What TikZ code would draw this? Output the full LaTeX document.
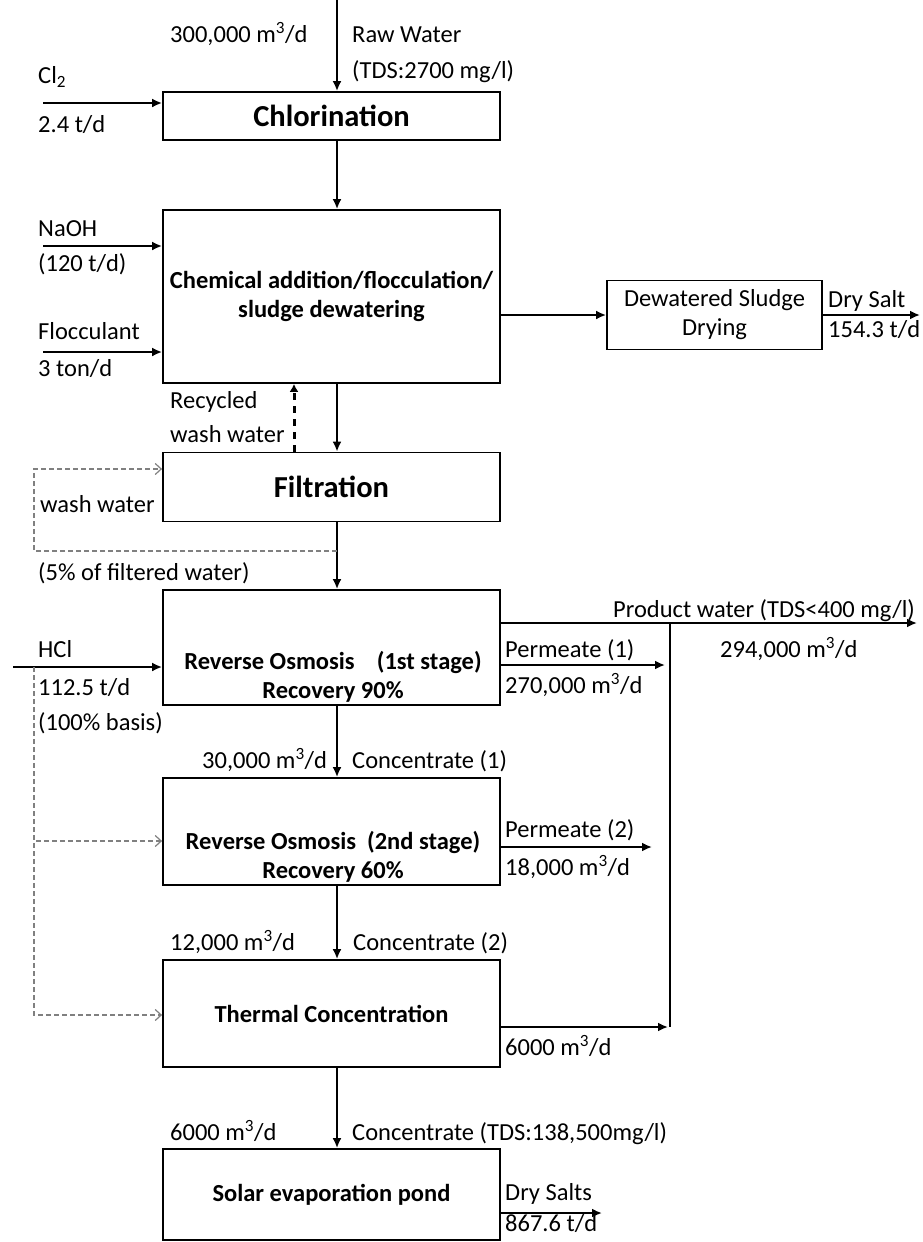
\documentclass[tikz,border=0pt]{standalone}
\usepackage{fontspec}
\setmainfont{Carlito}
\usetikzlibrary{arrows.meta}
\def\lbl{\fontsize{24.5}{29}\selectfont}
\def\bigt{\fontsize{30.5}{36}\selectfont}
\def\mcd{m\textsuperscript{3}/d}
\def\flow{\draw[flow]}

\begin{document}
\begin{tikzpicture}[x=1pt,y=-1pt,
    unit/.style={draw,line width=1.8pt,inner sep=0pt,align=center,font=\lbl\bfseries},
    txt/.style={anchor=west,inner sep=0pt,text height=16pt,text depth=5pt,font=\lbl},
    flow/.style={line width=2.2pt,-{Latex[length=10pt,width=9pt]}},
    wash/.style={gray,line width=1.2pt,dash pattern=on 5pt off 3pt,-{Straight Barb[length=6pt,width=11pt]}},
    recyc/.style={line width=3pt,dash pattern=on 7pt off 6pt,-{Latex[length=8pt,width=9pt]}}]
\useasboundingbox (0,0) rectangle (923,1242);
% process units
\node[unit,minimum width=337pt,minimum height=48pt]  (chlor)  at (331.5,116)   {\bigt Chlorination};
\node[unit,minimum width=337pt,minimum height=173pt] (chem)   at (331.5,296.5) {Chemical addition/flocculation/\\sludge dewatering};
\node[unit,minimum width=215pt,minimum height=69pt,font=\lbl] (sludge) at (714.5,315) {Dewatered Sludge\\Drying};
\node[unit,minimum width=337pt,minimum height=69pt]  (filt)   at (331.5,487)   {\bigt Filtration};
\node[unit,minimum width=337pt,minimum height=115pt] (ro1)    at (331.5,647.5) {};
\node[font=\lbl\bfseries,align=center,inner sep=0pt] (ro1t) at (333,677) {Reverse Osmosis~~~~(1st stage)\\Recovery 90\%};
\node[unit,minimum width=337pt,minimum height=107pt] (ro2)    at (331.5,831.5) {};
\node[font=\lbl\bfseries,align=center,inner sep=0pt] (ro2t) at (333,857) {Reverse Osmosis~~(2nd stage)\\Recovery 60\%};
\node[unit,minimum width=337pt,minimum height=107pt] (therm)  at (331.5,1013.5) {Thermal Concentration};
\node[unit,minimum width=337pt,minimum height=91pt]  (solar)  at (331.5,1194.5) {Solar evaporation pond};

% free ends
\coordinate (spine) at (337,0);
\coordinate (clin)  at (43,103);
\coordinate (naoh)  at (43,246);
\coordinate (floc)  at (43,352);
\coordinate (dry)   at (920,315);
\coordinate (rw)    at (294,0);
\coordinate (wsplit) at (337,551);
\coordinate (wl)    at (34,469);
\coordinate (hclin) at (13,667);
\coordinate (hcltap) at (34,667);
\coordinate (b2)    at (34,841);
\coordinate (b3)    at (34,1015);
\coordinate (prod)  at (917,623);
\coordinate (junc)  at (670,623);
\coordinate (p1)    at (665,665);
\coordinate (p2)    at (652,847);
\coordinate (tout)  at (668,1027);
\coordinate (ds)    at (602,1213);

% main line
\flow (spine) -- (chlor.north -| spine);
\foreach \a/\b in {chlor/chem,chem/filt,filt/ro1,ro1/ro2,ro2/therm,therm/solar}
    \flow (\a.south -| spine) -- (\b.north -| spine);
% chemicals in
\flow (clin) -- (clin -| chlor.west);
\flow (naoh) -- (naoh -| chem.west);
\flow (floc) -- (floc -| chem.west);
\flow (hclin) -- (hclin -| ro1.west);
% sludge
\flow (chem.east |- sludge.west) -- (sludge.west);
\flow (sludge.east |- dry) -- (dry);
% wash water
\draw[recyc] (filt.north -| rw) -- (chem.south -| rw);
\draw[wash] (wsplit) -| (wl) -- (wl -| filt.west);
\draw[wash] (hcltap) |- (b2 -| ro2.west);
\draw[wash] (hcltap) |- (b3 -| therm.west);
% product water
\flow (ro1.east |- prod) -- (prod);
\draw[line width=2.2pt] (junc) -- (junc |- tout);
\flow (ro1.east |- p1) -- (p1);
\flow (ro2.east |- p2) -- (p2);
\flow (therm.east |- tout) -- (tout);
\flow (solar.east |- ds) -- (ds);

% labels
\node[txt] (l1)  at (170,37)  {300,000 \mcd};
\node[txt] (l2)  at (352,37)  {Raw Water};
\node[txt] (l3)  at (352,73)  {(TDS:2700 mg/l)};
\node[txt] (l4)  at (38,78)   {Cl\textsubscript{2}};
\node[txt] (l5)  at (38,127)  {2.4 t/d};
\node[txt] (l6)  at (38,231)  {NaOH};
\node[txt] (l7)  at (38,266)  {(120 t/d)};
\node[txt] (l8)  at (38,334)  {Flocculant};
\node[txt] (l9)  at (38,371)  {3 ton/d};
\node[txt] (l10) at (828,302) {Dry Salt};
\node[txt] (l11) at (828,332) {154.3 t/d};
\node[txt] (l12) at (170,403) {Recycled};
\node[txt] (l13) at (170,437) {wash water};
\node[txt] (l14) at (40,507)  {wash water};
\node[txt] (l15) at (38,575)  {(5\% of filtered water)};
\node[txt] (l16) at (38,652)  {HCl};
\node[txt] (l17) at (38,690)  {112.5 t/d};
\node[txt] (l18) at (38,725)  {(100\% basis)};
\node[txt] (l19) at (613,612) {Product water (TDS<400 mg/l)};
\node[txt] (l20) at (720,652) {294,000 \mcd};
\node[txt] (l21) at (505,652) {Permeate (1)};
\node[txt] (l22) at (505,688) {270,000 \mcd};
\node[txt] (l23) at (202,763) {30,000 \mcd};
\node[txt] (l24) at (352,763) {Concentrate (1)};
\node[txt] (l25) at (505,832) {Permeate (2)};
\node[txt] (l26) at (505,870) {18,000 \mcd};
\node[txt] (l27) at (170,945) {12,000 \mcd};
\node[txt] (l28) at (353,945) {Concentrate (2)};
\node[txt] (l29) at (505,1050) {6000 \mcd};
\node[txt] (l30) at (170,1135) {6000 \mcd};
\node[txt] (l31) at (352,1135) {Concentrate (TDS:138,500mg/l)};
\node[txt] (l32) at (505,1195) {Dry Salts};
\node[txt] (l33) at (505,1226) {867.6 t/d};
\end{tikzpicture}
\end{document}
